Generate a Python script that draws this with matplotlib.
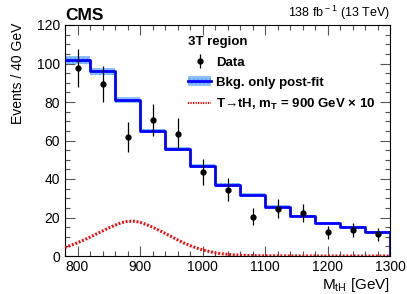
import numpy as np
import matplotlib
matplotlib.use("Agg")
import matplotlib.pyplot as plt
from matplotlib.ticker import MultipleLocator
from matplotlib.lines import Line2D
from matplotlib.patches import Patch

plt.rcParams['font.family'] = ['Liberation Sans', 'DejaVu Sans']
plt.rcParams['mathtext.fontset'] = 'custom'
plt.rcParams['mathtext.rm'] = 'Liberation Sans'
plt.rcParams['mathtext.bf'] = 'Liberation Sans:bold'

# ---- data ----
bin_edges = [780, 820, 860, 900, 940, 980, 1020, 1060, 1100, 1140, 1180, 1220, 1260, 1300]
bkg = [101.7, 95.9, 81.0, 65.0, 55.4, 46.6, 37.0, 31.9, 25.6, 20.8, 17.3, 15.1, 12.3]
bkg_unc = [2.0, 1.8, 1.5, 1.2, 1.1, 1.0, 0.9, 0.8, 0.7, 0.7, 0.6, 0.6, 0.6]
data_x = [800, 840, 880, 920, 960, 1000, 1040, 1080, 1120, 1160, 1200, 1240, 1280]
data_y = [97.7, 89.5, 61.6, 70.6, 63.5, 43.6, 34.4, 20.4, 24.6, 22.3, 12.3, 13.5, 11.4]
data_err = [9.9, 9.4, 7.8, 8.4, 8.0, 6.6, 5.9, 4.5, 5.0, 4.7, 3.5, 3.7, 3.4]
sig_x = [780, 790, 800, 810, 820, 830, 840, 850, 860, 870, 880, 890, 900, 910, 920,
         930, 940, 950, 960, 970, 980, 990, 1000, 1010, 1020, 1030, 1040, 1050, 1060,
         1080, 1100, 1150, 1200, 1250, 1300]
sig_y = [4.5, 5.6, 6.9, 8.3, 9.8, 11.4, 13.0, 14.6, 16.0, 17.3, 18.0, 18.1, 17.5, 16.4,
         15.0, 13.4, 11.8, 10.1, 8.4, 6.8, 5.4, 4.2, 3.2, 2.4, 1.7, 1.2, 0.9, 0.6, 0.4,
         0.2, 0.1, 0.05, 0.02, 0.0, 0.0]

fig = plt.figure(figsize=(4.07, 2.94), dpi=100)
ax = fig.add_axes([65/407, 38/294, 325/407, 231/294])

edges = np.array(bin_edges)
b = np.array(bkg)
u = np.array(bkg_unc)

# uncertainty band
ax.fill_between(edges, np.append(b - u, (b - u)[-1]), np.append(b + u, (b + u)[-1]),
                step='post', facecolor='#8fc1ff', edgecolor='#5fa5ff', hatch='....',
                linewidth=0, zorder=2)
# background line
ax.step(edges, np.append(b, b[-1]), where='post', color='#0000ff', lw=2.0, zorder=3)
ax.plot([edges[-1], edges[-1]], [b[-1], 0], color='#0000ff', lw=2.0, zorder=3)

# signal
ax.plot(sig_x, sig_y, color='#ff0000', lw=2.2, ls=(0, (0.6, 0.6)), zorder=3)

# data
ax.errorbar(data_x, data_y, yerr=data_err, fmt='o', color='black', ms=3.5,
            elinewidth=0.9, capsize=0, zorder=4)

ax.set_xlim(780, 1300)
ax.set_ylim(0, 120)
ax.xaxis.set_major_locator(MultipleLocator(100))
ax.xaxis.set_minor_locator(MultipleLocator(20))
ax.yaxis.set_major_locator(MultipleLocator(20))
ax.yaxis.set_minor_locator(MultipleLocator(5))
ax.tick_params(which='both', direction='in', top=True, right=True, labelsize=10, color='#555555', width=0.8)
ax.tick_params(which='major', length=7)
ax.tick_params(which='minor', length=3.5)
ax.tick_params(axis='x', pad=3)
for s in ax.spines.values():
    s.set_linewidth(0.8)

ax.set_ylabel('Events / 40 GeV', fontsize=10)
ax.yaxis.set_label_coords(-0.123, 0.79)
ax.set_xlabel(r'M$_{\rm tH}$ [GeV]', fontsize=11, labelpad=1)
ax.xaxis.set_label_coords(1.0, -0.085)
ax.xaxis.label.set_horizontalalignment('right')

fig.text(65/407, 271/294, 'CMS', fontsize=12.5, fontweight='bold', ha='left', va='bottom')
fig.text(390/407, 272/294, r'138 fb$^{\rm -1}$ (13 TeV)', fontsize=9, ha='right', va='bottom')

data_handle = ax.errorbar([], [], yerr=[], fmt='o', color='black', ms=3.5, elinewidth=0.9)
handles = [
    data_handle,
    (Patch(facecolor='#8fc1ff', edgecolor='#5fa5ff', hatch='....', linewidth=0),
     Line2D([], [], color='#0000ff', lw=2.0)),
    Line2D([], [], color='#ff0000', lw=1.5, ls=(0, (0.6, 0.6))),
]
labels = ['Data', 'Bkg. only post-fit', 'T\u2192tH, m$_{\\mathbf{T}}$ = 900 GeV \u00d7 10']
leg = ax.legend(handles, labels, loc='upper left', bbox_to_anchor=(0.355, 0.985),
                frameon=False, title='3T region', alignment='left',
                prop={'weight': 'bold', 'size': 9.5},
                title_fontproperties={'weight': 'bold', 'size': 9.5},
                handlelength=1.7, handletextpad=0.4, labelspacing=0.6,
                borderaxespad=0.2)

fig.savefig('out.png', dpi=100)
